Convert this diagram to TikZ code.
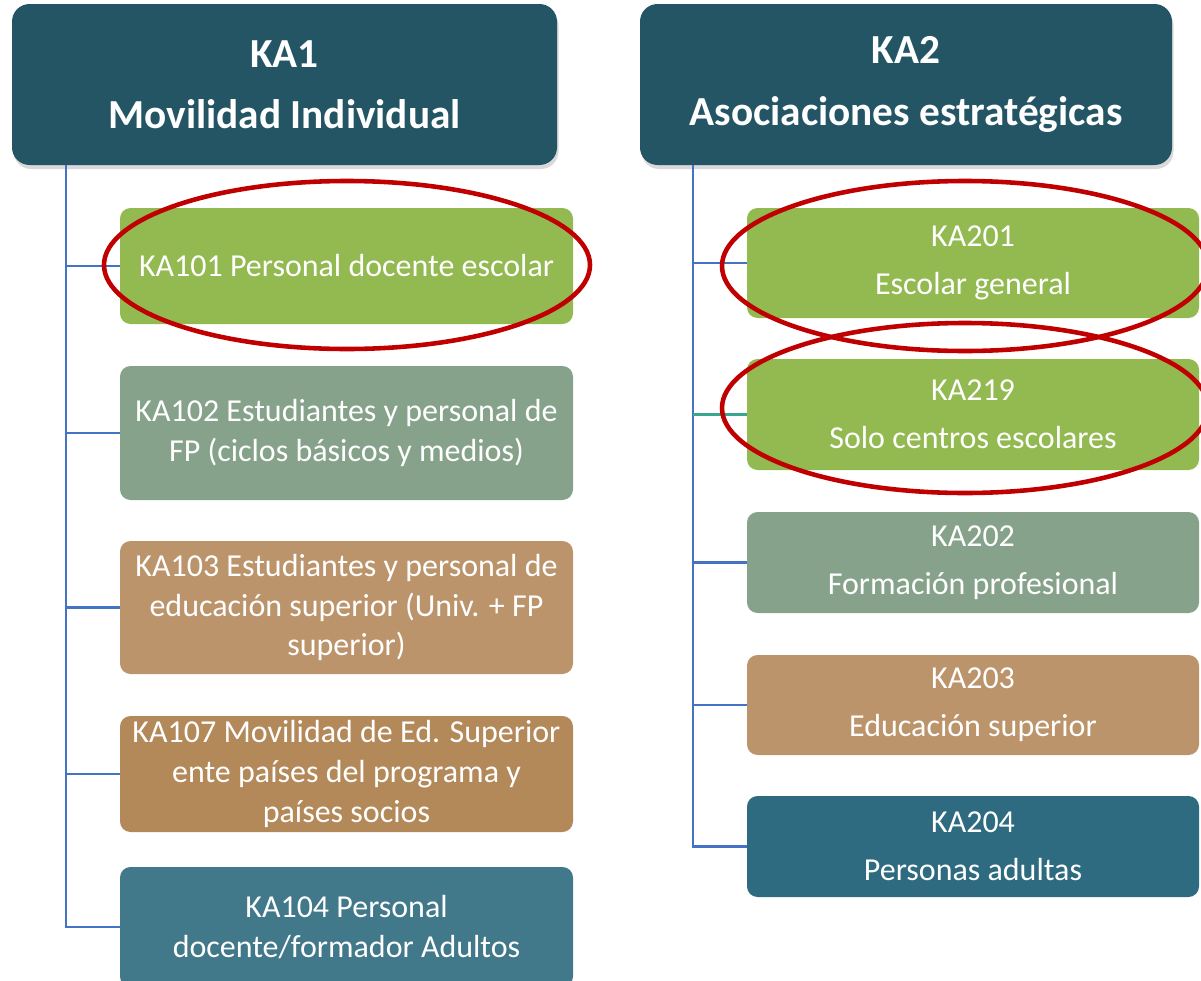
\documentclass[tikz,border=0pt]{standalone}
\usepackage{fontspec}
\setmainfont{Carlito}
\usepackage{tikz}
\usetikzlibrary{shapes.geometric, positioning, shadows}
\usepackage{xcolor}
\definecolor{headteal}{HTML}{245565}
\definecolor{leafgreen}{HTML}{93B951}
\definecolor{sagegreen}{HTML}{86A28A}
\definecolor{sandtan}{HTML}{BC946B}
\definecolor{earthbrown}{HTML}{B3895A}
\definecolor{adultblue}{HTML}{41788A}
\definecolor{adultdeep}{HTML}{2E6B80}
\definecolor{treeblue}{HTML}{4472C4}
\definecolor{branchteal}{HTML}{3BA58F}
\definecolor{markred}{HTML}{C00000}

\begin{document}
\begin{tikzpicture}[
    header/.style={rectangle, rounded corners=10pt, fill=headteal, text=white, minimum width=10.9cm, minimum height=3.22cm, align=center, font=\fontsize{23.5}{35}\selectfont\bfseries, drop shadow={opacity=0.3, shadow xshift=0.03cm, shadow yshift=-0.08cm}},
    item/.style={rectangle, rounded corners=6pt, text=white, minimum width=9.06cm, align=center, inner sep=1pt, font=\fontsize{18.2}{22.7}\selectfont},
    itemR/.style={item, minimum width=9.04cm, font=\fontsize{18.2}{27.2}\selectfont},
    tree/.style={draw=treeblue, line width=1.4pt},
    highlight/.style={draw=markred, line width=2.6pt}
]
    \clip (0,0) rectangle (24.02,-19.6);

    % Headers
    \node[header] (ka1) at (5.69,-1.69) {KA1\\Movilidad Individual};
    \node[header, minimum width=10.64cm] (ka2) at (18.12,-1.69) {KA2\\Asociaciones estratégicas};

    % KA1 actions
    \node[item, fill=leafgreen, minimum height=2.32cm] (ka101) at (6.93,-5.32) {KA101 Personal docente escolar};
    \node[item, fill=sagegreen, minimum height=2.68cm] (ka102) at (6.93,-8.66) {KA102 Estudiantes y personal de\\FP (ciclos básicos y medios)};
    \node[item, fill=sandtan, minimum height=2.66cm] (ka103) at (6.93,-12.15) {KA103 Estudiantes y personal de\\educación superior (Univ. + FP\\superior)};
    \node[item, fill=earthbrown, minimum height=2.32cm] (ka107) at (6.93,-15.48) {KA107 Movilidad de Ed. Superior\\ente países del programa y\\países socios};
    \node[item, fill=adultblue, minimum height=2.4cm] (ka104) at (6.93,-18.54) {KA104 Personal\\docente/formador Adultos};

    % KA2 actions
    \node[itemR, fill=leafgreen, minimum height=2.2cm] (ka201) at (19.46,-5.26) {KA201\\Escolar general};
    \node[itemR, fill=leafgreen, minimum height=2.22cm] (ka219) at (19.46,-8.29) {KA219\\Solo centros escolares};
    \node[itemR, fill=sagegreen, minimum height=2.02cm] (ka202) at (19.46,-11.25) {KA202\\Formación profesional};
    \node[itemR, fill=sandtan, minimum height=2.0cm] (ka203) at (19.46,-14.1) {KA203\\Educación superior};
    \node[itemR, fill=adultdeep, minimum height=2.02cm] (ka204) at (19.46,-16.93) {KA204\\Personas adultas};

    % Tree lines
    \coordinate (spineL) at (1.32,-3.3);
    \coordinate (spineR) at (13.86,-3.3);
    \draw[tree] (spineL) |- (ka101.west);
    \draw[tree] (spineL) |- (ka102.west);
    \draw[tree] (spineL) |- (ka103.west);
    \draw[tree] (spineL) |- (ka107.west);
    \draw[tree] (spineL) |- (ka104.west);
    \draw[tree] (spineR) |- (ka201.west);
    \draw[tree] (spineR) |- (ka202.west);
    \draw[tree] (spineR) |- (ka203.west);
    \draw[tree] (spineR) |- (ka204.west);
    \draw[tree, draw=branchteal] (spineR |- ka219.west) -- (ka219.west);

    % Highlights
    \draw[highlight] (6.94,-5.3) ellipse [x radius=4.86, y radius=1.68];
    \draw[highlight] (19.3,-5.32) ellipse [x radius=4.86, y radius=1.7];
    \draw[highlight] (19.3,-8.16) ellipse [x radius=4.86, y radius=1.7];
\end{tikzpicture}
\end{document}
